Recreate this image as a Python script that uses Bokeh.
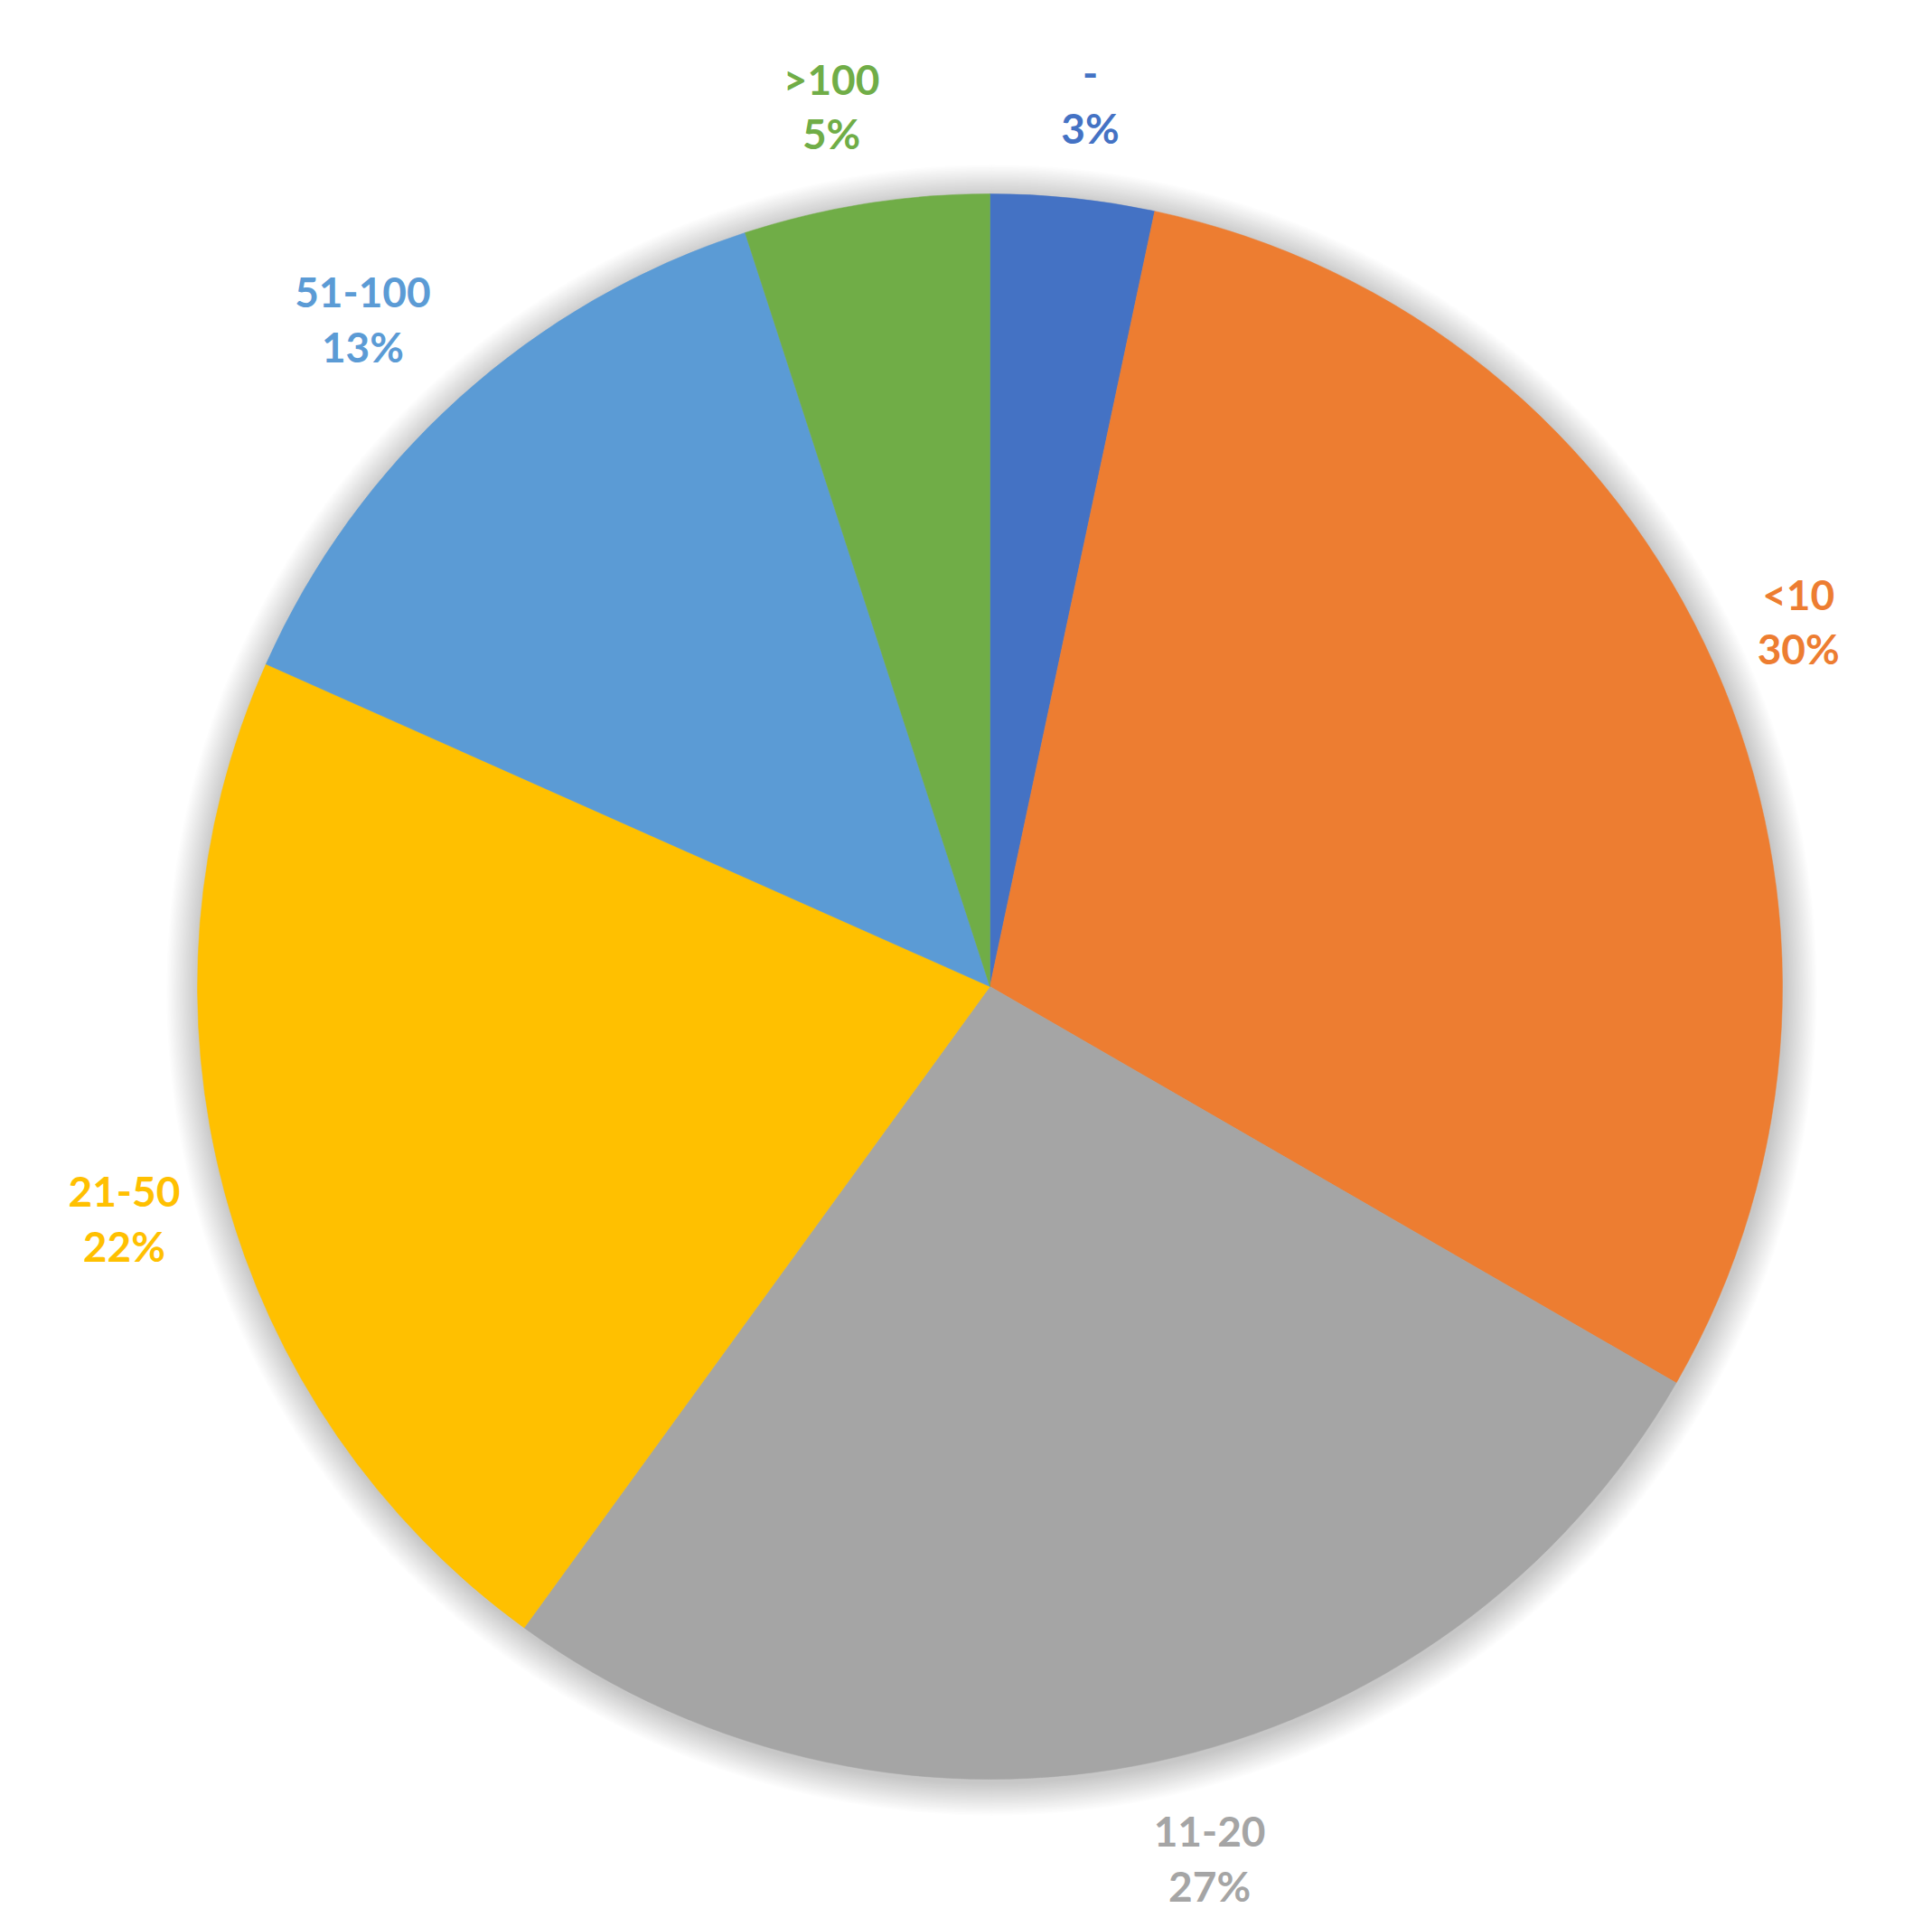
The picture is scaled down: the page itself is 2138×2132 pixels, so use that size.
import math
from bokeh.plotting import figure
from bokeh.models import Range1d, ColumnDataSource
from bokeh.core.properties import value
from bokeh.embed import file_html
from bokeh.resources import INLINE

# ---- data ----
categories = ["-", "<10", "11-20", "21-50", "51-100", ">100"]
counts = [10, 90, 80, 65, 40, 15]
colors = ["#4472C4", "#ED7D31", "#A5A5A5", "#FFC000", "#5B9BD5", "#70AD47"]

W, H = 2122, 2116
p = figure(width=W, height=H, output_backend="svg", toolbar_location=None,
           x_range=Range1d(0, W), y_range=Range1d(2132 - H, 2132),
           min_border=0, match_aspect=False)
p.axis.visible = False
p.grid.visible = False
p.outline_line_color = None
p.background_fill_color = "white"

cx, cy = 1095, 2132 - 1091
R = 877

# soft shadow
for k in range(28, 0, -1):
    p.circle(x=cx + 2, y=cy - 4, radius=R + k * 1.3, fill_color="black",
             fill_alpha=0.0075, line_color=None)

total = sum(counts)
starts, ends, mids = [], [], []
cum = 0.0
for s in counts:
    a0 = math.pi / 2 - 2 * math.pi * cum / total
    cum += s
    a1 = math.pi / 2 - 2 * math.pi * cum / total
    starts.append(a0)
    ends.append(a1)
    mids.append((a0 + a1) / 2)

src = ColumnDataSource(dict(start=starts, end=ends, color=colors, cat=categories))
p.wedge(x=cx, y=cy, radius=R, start_angle="start", end_angle="end",
        direction="clock", fill_color="color", line_color="color",
        line_width=0.5, source=src)

# labels placed outside the pie, Excel-style
FS = 46
D = R + 53
pct = ["%d%%" % round(s / total * 100) for s in counts]


def text_w(t):
    return 0.52 * FS * len(t) + 0.4 * FS * t.count("%")


lx, ly = [], []
for m, c, pc in zip(mids, categories, pct):
    w2 = max(text_w(c), text_w(pc)) / 2
    h2 = 55
    ux, uy = math.cos(m), math.sin(m)
    ox = math.copysign(w2 * min(1.0, 4 * abs(ux)), ux)
    oy = math.copysign(h2 * min(1.0, 1.15 * abs(uy)), uy)
    lx.append(cx + D * ux + ox)
    ly.append(cy + D * uy + oy)

lsrc = ColumnDataSource(dict(x=lx, y=ly, cat=categories, pct=pct, color=colors))
for col, off in (("cat", -30), ("pct", 30)):
    p.text(x="x", y="y", text=col, source=lsrc, text_color="color",
           text_font=value("Lato"), text_font_style="bold",
           text_font_size=f"{FS}px", text_align="center",
           text_baseline="middle", y_offset=off)

open("out.html", "w").write(file_html(p, INLINE))
